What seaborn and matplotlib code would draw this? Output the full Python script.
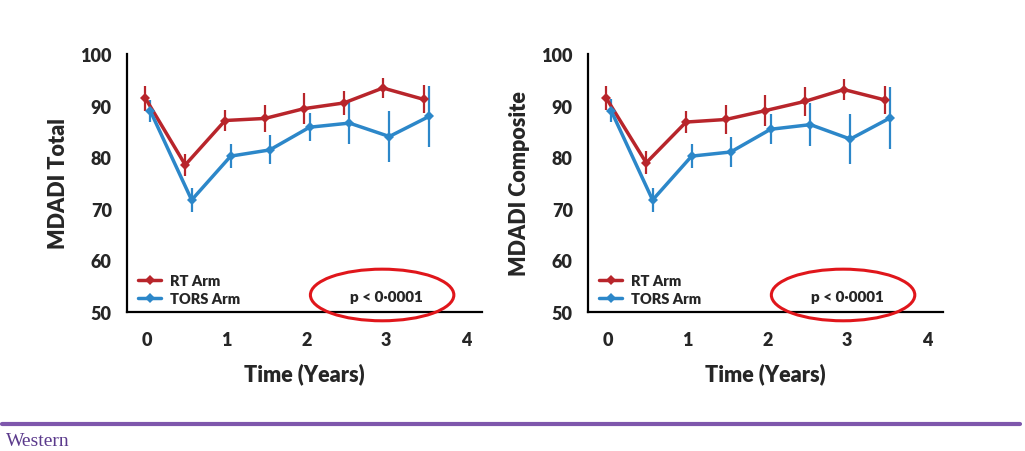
import numpy as np
import pandas as pd
import seaborn as sns
import matplotlib.pyplot as plt
from matplotlib.patches import Ellipse

# --- data ---
time_rt = [-0.02, 0.48, 0.98, 1.48, 1.97, 2.47, 2.96, 3.47]
time_tors = [0.04, 0.56, 1.05, 1.54, 2.04, 2.54, 3.04, 3.54]

total_rt = [91.4, 78.5, 87.1, 87.5, 89.4, 90.5, 93.4, 91.2]
total_rt_err = [2.4, 2.1, 2.0, 2.6, 3.0, 2.4, 2.0, 2.7]
total_tors = [89.0, 71.7, 80.2, 81.4, 85.8, 86.6, 84.0, 87.9]
total_tors_err = [2.1, 2.4, 2.3, 2.8, 2.7, 4.0, 4.9, 5.9]

comp_rt = [91.4, 78.9, 86.8, 87.3, 89.0, 90.8, 93.1, 91.1]
comp_rt_err = [2.3, 2.2, 2.1, 2.8, 3.0, 2.8, 2.0, 2.7]
comp_tors = [89.0, 71.7, 80.2, 81.0, 85.4, 86.3, 83.5, 87.6]
comp_tors_err = [2.2, 2.4, 2.3, 2.9, 2.9, 4.2, 4.9, 6.0]

arms = ['RT Arm', 'TORS Arm']
arm_colors = {'RT Arm': '#B8252B', 'TORS Arm': '#2C87C9'}
p_text = 'p < 0·0001'

sns.set_style('white')
plt.rcParams['font.family'] = ['Lato', 'DejaVu Sans']
plt.rcParams['font.weight'] = 'bold'


def make_df(rt, rt_err, tors, tors_err):
    return pd.concat([
        pd.DataFrame({'time': time_rt, 'score': rt, 'err': rt_err, 'arm': 'RT Arm'}),
        pd.DataFrame({'time': time_tors, 'score': tors, 'err': tors_err, 'arm': 'TORS Arm'}),
    ], ignore_index=True)


def draw_panel(ax, df, ylabel):
    for arm in arms:
        d = df[df['arm'] == arm]
        ax.errorbar(d['time'], d['score'], yerr=d['err'], fmt='none',
                    ecolor=arm_colors[arm], elinewidth=1.6, capsize=0, zorder=2)
    sns.lineplot(data=df, x='time', y='score', hue='arm', hue_order=arms,
                 palette=arm_colors, marker='D', markersize=5, markeredgewidth=0,
                 linewidth=2.5, estimator=None, sort=False, ax=ax, zorder=3)
    ax.set_xlim(-0.25, 4.2)
    ax.set_ylim(50, 100)
    ax.set_xticks(np.arange(0, 4.01, 0.5))
    ax.set_xticklabels(['0', '', '1', '', '2', '', '3', '', '4'])
    ax.set_yticks([50, 60, 70, 80, 90, 100])
    ax.tick_params(axis='both', direction='out', length=5, width=1.5,
                   color='black', labelsize=13, pad=6)
    ax.tick_params(axis='x', pad=9)
    for lab in ax.get_xticklabels() + ax.get_yticklabels():
        lab.set_fontweight('heavy')
    for s in ['top', 'right']:
        ax.spines[s].set_visible(False)
    for s in ['left', 'bottom']:
        ax.spines[s].set_color('black')
        ax.spines[s].set_linewidth(1.6)
    ax.set_xlabel('Time (Years)', fontsize=15.5, fontweight='heavy', labelpad=10)
    ax.set_ylabel(ylabel, fontsize=15.5, fontweight='heavy', labelpad=8)
    leg = ax.legend(loc='lower left', frameon=False, fontsize=10.5,
                    handlelength=1.6, handletextpad=0.6, labelspacing=0.35,
                    borderaxespad=0.1, bbox_to_anchor=(0.01, 0.0))
    for t in leg.get_texts():
        t.set_fontweight('heavy')
    ax.text(3.0, 53.0, p_text, ha='center', va='center', fontsize=11, fontweight='heavy')
    ax.add_patch(Ellipse((2.95, 53.3), 1.8, 10.0, fill=False, edgecolor='#E0161B',
                         linewidth=2.2, clip_on=False, zorder=5))


fig = plt.figure(figsize=(10.25, 4.52), dpi=100)
ax1 = fig.add_axes([0.124, 0.3075, 0.346, 0.571])
ax2 = fig.add_axes([0.5737, 0.3075, 0.346, 0.571])

draw_panel(ax1, make_df(total_rt, total_rt_err, total_tors, total_tors_err), 'MDADI Total')
draw_panel(ax2, make_df(comp_rt, comp_rt_err, comp_tors, comp_tors_err), 'MDADI Composite')

# footer band of the slide
fig.add_artist(plt.Line2D([0.002, 0.995], [0.06, 0.06], color='#7E57AC', linewidth=3))
fig.text(0.006, 0.024, 'Western', fontsize=14, color='#5B3A8C',
         family=['Liberation Serif', 'DejaVu Serif'], fontweight='normal', va='center')

fig.savefig('out.png', dpi=100)
